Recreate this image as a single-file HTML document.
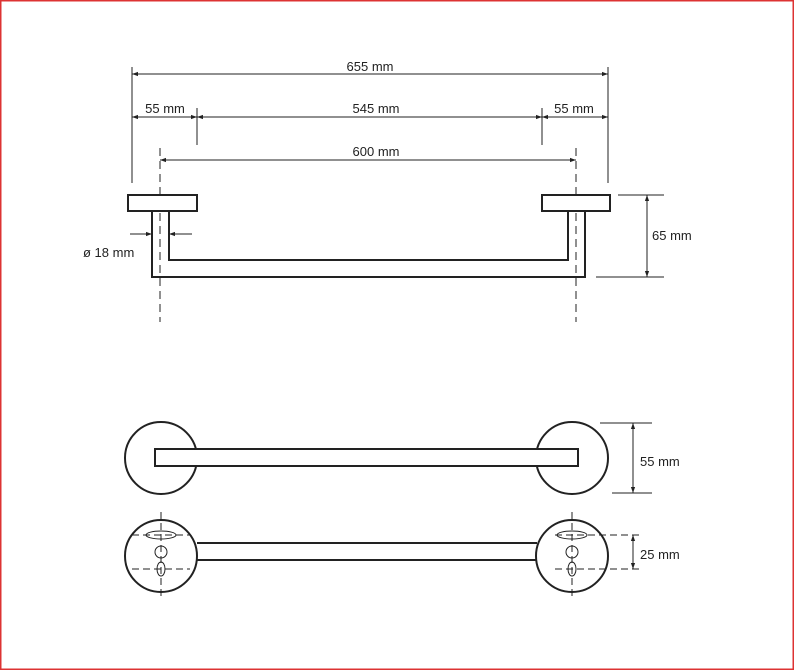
<!DOCTYPE html>
<html><head><meta charset="utf-8"><style>
html,body{margin:0;padding:0;background:#fff}
svg{display:block}
text{font-family:"Liberation Sans",sans-serif;font-size:13px;fill:#222}
</style></head><body>
<svg width="794" height="670" viewBox="0 0 794 670" xmlns="http://www.w3.org/2000/svg">
<defs>
<marker id="a" viewBox="0 0 10 10" refX="10" refY="5" markerWidth="6" markerHeight="6" orient="auto-start-reverse"><path d="M0,1.5 L10,5 L0,8.5 z" fill="#222"/></marker>
</defs>
<rect x="0.75" y="0.75" width="792.5" height="668.5" fill="none" stroke="#d33" stroke-width="1.5"/>
<g stroke="#222" fill="none" stroke-width="1">
<!-- extension lines -->
<line x1="132" y1="67" x2="132" y2="183"/>
<line x1="608" y1="67" x2="608" y2="183"/>
<line x1="197" y1="108" x2="197" y2="145"/>
<line x1="542" y1="108" x2="542" y2="145"/>
<!-- dim lines -->
<line x1="132" y1="74" x2="608" y2="74" marker-start="url(#a)" marker-end="url(#a)"/>
<line x1="132" y1="117" x2="197" y2="117" marker-start="url(#a)" marker-end="url(#a)"/>
<line x1="197" y1="117" x2="542" y2="117" marker-start="url(#a)" marker-end="url(#a)"/>
<line x1="542" y1="117" x2="608" y2="117" marker-start="url(#a)" marker-end="url(#a)"/>
<line x1="160" y1="160" x2="576" y2="160" marker-start="url(#a)" marker-end="url(#a)"/>
<!-- center dashed -->
<line x1="160" y1="148" x2="160" y2="322" stroke-dasharray="8,5"/>
<line x1="576" y1="148" x2="576" y2="322" stroke-dasharray="8,5"/>
</g>
<g stroke="#222" fill="#fff" stroke-width="2">
<rect x="128" y="195" width="69" height="16"/>
<rect x="542" y="195" width="68" height="16"/>
<path d="M152,211 L152,277 L585,277 L585,211 M169,211 L169,260 L568,260 L568,211" fill="none"/>
</g>
<g stroke="#222" fill="none" stroke-width="1">
<line x1="130" y1="234" x2="152" y2="234" marker-end="url(#a)"/>
<line x1="192" y1="234" x2="169" y2="234" marker-end="url(#a)"/>
<line x1="618" y1="195" x2="664" y2="195"/>
<line x1="596" y1="277" x2="664" y2="277"/>
<line x1="647" y1="195" x2="647" y2="277" marker-start="url(#a)" marker-end="url(#a)"/>
<line x1="600" y1="423" x2="652" y2="423"/>
<line x1="612" y1="493" x2="652" y2="493"/>
<line x1="633" y1="423" x2="633" y2="493" marker-start="url(#a)" marker-end="url(#a)"/>
</g>
<text x="370" y="71" text-anchor="middle">655 mm</text>
<text x="165" y="113" text-anchor="middle">55 mm</text>
<text x="376" y="113" text-anchor="middle">545 mm</text>
<text x="574" y="113" text-anchor="middle">55 mm</text>
<text x="376" y="156" text-anchor="middle">600 mm</text>
<text x="83" y="257">ø 18 mm</text>
<text x="652" y="240">65 mm</text>
<text x="640" y="466">55 mm</text>
<text x="640" y="559">25 mm</text>
<!-- top view -->
<g stroke="#222" fill="#fff" stroke-width="2">
<circle cx="161" cy="458" r="36"/>
<circle cx="572" cy="458" r="36"/>
<rect x="155" y="449" width="423" height="17"/>
<line x1="197" y1="543" x2="537" y2="543"/>
<line x1="197" y1="560" x2="537" y2="560"/>
<circle cx="161" cy="556" r="36" fill="none"/>
<circle cx="572" cy="556" r="36" fill="none"/>
</g>
<g stroke="#222" fill="none" stroke-width="1">
<!-- left mount -->
<line x1="161" y1="512" x2="161" y2="600" stroke-dasharray="7,4"/>
<line x1="132" y1="535" x2="190" y2="535" stroke-dasharray="7,4"/>
<line x1="132" y1="569" x2="190" y2="569" stroke-dasharray="7,4"/>
<ellipse cx="161" cy="535" rx="15" ry="4"/>
<circle cx="161" cy="552" r="6"/>
<ellipse cx="161" cy="569" rx="4" ry="7"/>
<!-- right mount -->
<line x1="572" y1="512" x2="572" y2="600" stroke-dasharray="7,4"/>
<line x1="555" y1="535" x2="642" y2="535" stroke-dasharray="7,4"/>
<line x1="555" y1="569" x2="642" y2="569" stroke-dasharray="7,4"/>
<ellipse cx="572" cy="535" rx="15" ry="4"/>
<circle cx="572" cy="552" r="6"/>
<ellipse cx="572" cy="569" rx="4" ry="7"/>
<line x1="633" y1="535" x2="633" y2="569" marker-start="url(#a)" marker-end="url(#a)"/>
</g>
</svg>
</body></html>
